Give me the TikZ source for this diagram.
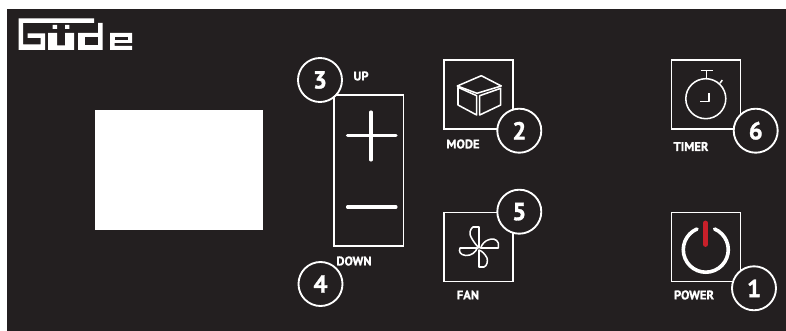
\documentclass[tikz,border=0pt]{standalone}
\usepackage{fontspec}
\setmainfont{PT Sans}[BoldFeatures={FakeBold=1.4}]
\definecolor{panel}{HTML}{231F20}
\definecolor{ledred}{HTML}{C8202A}
\tikzset{
 px/.style={x=0.75pt,y=-0.75pt},
 btn/.style={draw=white,line width=1.15pt,inner sep=0pt,minimum width=52pt,minimum height=52pt},
 badge/.style={circle,draw=white,fill=panel,line width=1.4pt,minimum size=33pt,inner sep=0pt,text=white,font=\fontsize{18.5}{18}\selectfont\bfseries},
 lab/.style={text=white,inner sep=0pt,font=\fontsize{9.4}{10}\selectfont\bfseries},
 ico/.style={draw=white,line width=1.15pt,line join=round},
 sign/.style={draw=white,line width=2.3pt,line cap=round},
}
\begin{document}
\begin{tikzpicture}[px]
\useasboundingbox (0,0) rectangle (786,331);
\fill[white] (0,0) rectangle (786,331);
\fill[panel] (7,9) rectangle (786,331);
\node[fill=white,minimum width=126pt,minimum height=90pt,inner sep=0pt] (screen) at (179,170) {};
% logo
\fill[white] (18.5,18.5) -- (94,18.5) -- (94,23) -- (23,23) -- (23,44.5) -- (40.5,44.5) -- (40.5,38) -- (27.5,38) -- (27.5,33.5) -- (45,33.5) -- (45,50) -- (18.5,50) -- cycle;
\fill[white] (48,33) -- (57,33) -- (57,45.5) -- (65,45.5) -- (65,33) -- (74,33) -- (74,50) -- (48,50) -- cycle
 (52.7,25) rectangle (57,29) (65,25) rectangle (69.3,29);
\fill[white] (78,33) -- (98,33) -- (98,23) -- (102.5,23) -- (102.5,50) -- (78,50) -- cycle;
\fill[panel] (85,37.5) rectangle (98,45.5);
\fill[white] (110,33) -- (132,33) -- (132,43) -- (114.5,43) -- (114.5,46) -- (132,46) -- (132,50) -- (110,50) -- cycle;
\fill[panel] (114.5,37) rectangle (127.5,40);
% buttons
\node[btn,minimum height=113pt] (updown) at (368.7,170.5) {};
\node[btn] (mode) at (478.5,94.5) {};
\node[btn] (fan) at (478.5,247) {};
\node[btn] (timer) at (706,94.5) {};
\node[btn] (power) at (706,247) {};
% plus minus
\draw[sign] (347.5,135.7) -- (396,135.7) (371,112) -- (371,160);
\draw[sign] (347.5,207) -- (396,207);
% cube
\draw[ico] (457.3,86) -- (481.3,75.7) -- (501.3,86) -- (477,93.3) -- cycle;
\draw[ico] (458,87.3) -- (458,105) -- (476.7,115) -- (476.7,95.7) -- cycle;
\draw[ico] (479.7,115) -- (500.7,105) -- (500.7,88.3) -- (479.7,95.7) -- cycle;
% fan
\draw[ico] (479,248) -- (479,227) -- (473,227) .. controls (470,229) and (469,234) .. (471,237) .. controls (473,241) and (476,245) .. (479,248) -- cycle;
\draw[ico] (480.7,248) -- (498.3,248) -- (498.3,243) .. controls (497,239) and (492,238) .. (488,240) .. controls (485,241) and (482,244) .. (480.7,248) -- cycle;
\draw[ico] (477.3,248) -- (460,248) .. controls (458.5,251) and (460,255) .. (465.7,255.5) .. controls (471,256) and (476,252) .. (477.3,248) -- cycle;
\draw[ico] (479,250) -- (479,267) -- (484,267) .. controls (487,266) and (488,261) .. (487,258) .. controls (485,254) and (482,251) .. (479,250) -- cycle;
% timer
\draw[ico] (705.8,98.7) circle[radius=20];
\draw[ico] (700.7,70.7) -- (712.7,70.7) (706.7,70.7) -- (706.7,79);
\draw[ico] (720,83.3) -- (722.3,80);
\draw[ico] (700,101.7) -- (709,101.7) -- (709,92.7);
% power
\draw[draw=white,line width=2.7pt,line cap=round] (697,229) arc[start angle=-113,end angle=-427,radius=22.5];
\draw[draw=ledred,line width=3.6pt,line cap=round] (705.5,223) -- (705.5,244.5);
% badges
\node[badge] (b3) at (320,80) {3};
\node[badge] (b2) at (519.3,130.7) {2};
\node[badge] (b5) at (519.3,211.7) {5};
\node[badge] (b4) at (320.5,284) {4};
\node[badge] (b6) at (755.7,130.7) {6};
\node[badge] (b1) at (754,288.3) {1};
% labels
\node[lab] (lup) at (361,76) {UP};
\node[lab] (lmode) at (463,144) {MODE};
\node[lab] (ldown) at (354,261) {DOWN};
\node[lab] (lfan) at (468,295) {FAN};
\node[lab] (ltimer) at (691,146.5) {TIMER};
\node[lab] (lpower) at (694,295) {POWER};
\end{tikzpicture}
\end{document}
